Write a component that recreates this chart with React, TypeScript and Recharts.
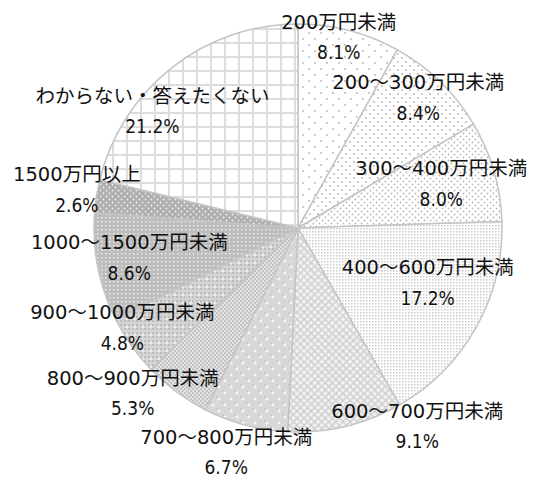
import React from 'react';
import { PieChart, Pie, Cell } from 'recharts';

// household income brackets, clockwise from 12 o'clock
const categories = [
  '200万円未満',
  '200～300万円未満',
  '300～400万円未満',
  '400～600万円未満',
  '600～700万円未満',
  '700～800万円未満',
  '800～900万円未満',
  '900～1000万円未満',
  '1000～1500万円未満',
  '1500万円以上',
  'わからない・答えたくない',
];
const shares = [8.1, 8.4, 8.0, 17.2, 9.1, 6.7, 5.3, 4.8, 8.6, 2.6, 21.2];

const data = categories.map((name, i) => ({ name, value: shares[i] }));

// label placement per slice: [distance / outerRadius, angle shift in degrees (clockwise)]
const labelPlace: [number, number][] = [
  [0.955, -2.5],
  [0.87, -1.6],
  [0.735, -0.9],
  [0.69, -6.3],
  [1.135, -17.5],
  [1.155, 2.8],
  [1.145, 8.5],
  [0.99, 5.7],
  [0.84, 1.1],
  [1.1, 0.8],
  [0.915, -13.1],
];

const RAD = Math.PI / 180;
const NAME_FONT = '"DejaVu Sans", "Noto Sans CJK JP", sans-serif';
const PCT_FONT = '"DejaVu Sans Condensed", "DejaVu Sans", sans-serif';

const renderLabel = (props: any) => {
  const { cx, cy, midAngle, outerRadius, index, name, value } = props;
  const [k, shift] = labelPlace[index];
  const a = (midAngle - shift) * RAD;
  const r = outerRadius * k;
  const x = cx + r * Math.cos(a);
  const y = cy - r * Math.sin(a);
  return (
    <g>
      <text x={x} y={y - 15} textAnchor="middle" dominantBaseline="central" fontSize={19.5} fill="#111" fontFamily={NAME_FONT}>
        {name}
      </text>
      <text x={x} y={y + 15} textAnchor="middle" dominantBaseline="central" fontSize={19} fill="#111" fontFamily={PCT_FONT}>
        {value.toFixed(1)}%
      </text>
    </g>
  );
};

const PatternDefs = () => (
  <defs>
    <pattern id="p0" width="12" height="12" patternUnits="userSpaceOnUse">
      <rect width="12" height="12" fill="#fff" />
      <circle cx="3" cy="3" r="0.9" fill="#b4b4b4" />
      <circle cx="9" cy="9" r="0.9" fill="#b4b4b4" />
    </pattern>
    <pattern id="p1" width="8" height="8" patternUnits="userSpaceOnUse">
      <rect width="8" height="8" fill="#fff" />
      <circle cx="2" cy="2" r="0.9" fill="#b4b4b4" />
      <circle cx="6" cy="6" r="0.9" fill="#b4b4b4" />
    </pattern>
    <pattern id="p2" width="6" height="6" patternUnits="userSpaceOnUse">
      <rect width="6" height="6" fill="#fff" />
      <circle cx="1.5" cy="1.5" r="0.9" fill="#b8b8b8" />
      <circle cx="4.5" cy="4.5" r="0.9" fill="#b8b8b8" />
    </pattern>
    <pattern id="p3" width="3" height="3" patternUnits="userSpaceOnUse">
      <rect width="3" height="3" fill="#fff" />
      <rect width="1.5" height="1.5" fill="#cccccc" />
    </pattern>
    <pattern id="p4" width="5" height="5" patternUnits="userSpaceOnUse" patternTransform="rotate(45)">
      <rect width="5" height="5" fill="#f2f2f2" />
      <rect width="5" height="1.4" fill="#cfcfcf" />
      <rect width="1.4" height="5" fill="#cfcfcf" />
    </pattern>
    <pattern id="p5" width="12" height="12" patternUnits="userSpaceOnUse">
      <rect width="12" height="12" fill="#d8d8d8" />
      <rect x="0" y="0" width="2" height="2" fill="#cbcbcb" />
      <rect x="6" y="6" width="2" height="2" fill="#cbcbcb" />
      <path d="M3 1.5v3M1.5 3h3M9 7.5v3M7.5 9h3" stroke="#fff" strokeWidth="1" />
    </pattern>
    <pattern id="p6" width="4" height="4" patternUnits="userSpaceOnUse">
      <rect width="4" height="4" fill="#e2e2e2" />
      <rect width="2" height="2" fill="#c4c4c4" />
      <rect x="2" y="2" width="2" height="2" fill="#c4c4c4" />
    </pattern>
    <pattern id="p7" width="8" height="8" patternUnits="userSpaceOnUse">
      <rect width="8" height="8" fill="#d4d4d4" />
      <rect width="2" height="2" fill="#bbbbbb" />
      <rect x="4" y="4" width="2" height="2" fill="#bbbbbb" />
      <rect x="4" width="2" height="2" fill="#bbbbbb" />
      <rect y="4" width="2" height="2" fill="#bbbbbb" />
      <path d="M7 5.5v3M5.5 7h3" stroke="#f4f4f4" strokeWidth="1" />
    </pattern>
    <pattern id="p8" width="4" height="4" patternUnits="userSpaceOnUse">
      <rect width="4" height="4" fill="#bdbdbd" />
      <rect x="1" y="1" width="1.5" height="1.5" fill="#eaeaea" />
    </pattern>
    <pattern id="p9" width="6" height="6" patternUnits="userSpaceOnUse">
      <rect width="6" height="6" fill="#afafaf" />
      <circle cx="1.5" cy="1.5" r="0.9" fill="#f0f0f0" />
      <circle cx="4.5" cy="4.5" r="0.9" fill="#f0f0f0" />
    </pattern>
    <pattern id="p10" width="14" height="14" patternUnits="userSpaceOnUse">
      <rect width="14" height="14" fill="#fff" />
      <rect width="14" height="2" fill="#dcdcdc" />
      <rect width="2" height="14" fill="#dcdcdc" />
    </pattern>
  </defs>
);

export default function App() {
  return (
    <div style={{ position: 'absolute', left: 0, top: 0, width: 539, height: 479, background: '#fff' }}>
      <PieChart width={539} height={479} margin={{ top: 0, right: 0, bottom: 0, left: 0 }}>
        <PatternDefs />
        <Pie
          data={data}
          dataKey="value"
          nameKey="name"
          cx={298}
          cy={228}
          outerRadius={204}
          startAngle={90}
          endAngle={-270}
          label={renderLabel}
          labelLine={false}
          isAnimationActive={false}
        >
          {data.map((d, i) => (
            <Cell key={d.name} fill={`url(#p${i})`} stroke="#c4c4c4" strokeWidth={1.5} />
          ))}
        </Pie>
      </PieChart>
    </div>
  );
}
